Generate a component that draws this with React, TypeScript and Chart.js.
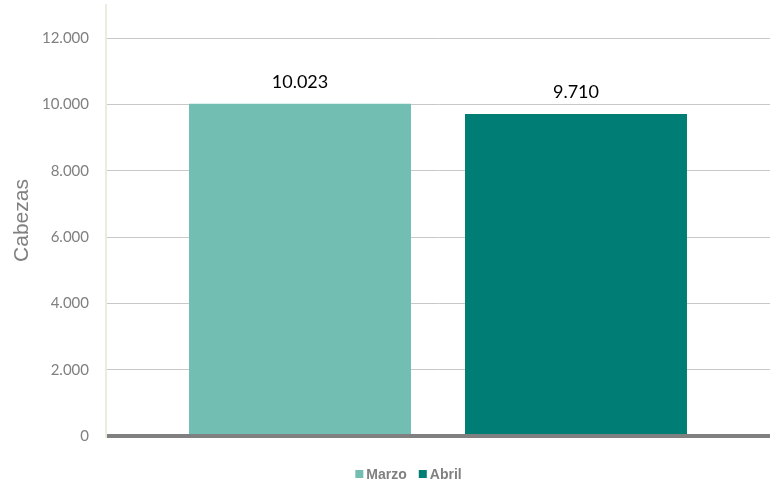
import React, { useEffect, useRef } from "react";
import { Chart, registerables } from "chart.js";

Chart.register(...registerables);

const categories = [""];
const seriesNames = ["Marzo", "Abril"];
const marzoValues = [10023];
const abrilValues = [9710];
const seriesColors = ["#73BEB3", "#007E75"];
const yTicks = [0, 2000, 4000, 6000, 8000, 10000, 12000];
const yMax = 13000;
const yTitle = "Cabezas";

const fmt = (v: number) =>
  String(Math.round(v)).replace(/\B(?=(\d{3})+(?!\d))/g, ".");

export default function App() {
  const ref = useRef<HTMLCanvasElement>(null);

  useEffect(() => {
    const valueLabels = {
      id: "valueLabels",
      afterDatasetsDraw(chart: any) {
        const ctx = chart.ctx;
        ctx.save();
        ctx.font = "18px Lato, 'Liberation Sans', sans-serif";
        ctx.fillStyle = "#000000";
        ctx.textAlign = "center";
        ctx.textBaseline = "alphabetic";
        chart.data.datasets.forEach((ds: any, di: number) => {
          const meta = chart.getDatasetMeta(di);
          meta.data.forEach((bar: any, i: number) => {
            ctx.fillText(fmt(ds.data[i]), bar.x, bar.y - 16);
          });
        });
        ctx.restore();
      },
    };

    const customLegend = {
      id: "customLegend",
      afterDraw(chart: any) {
        const ctx = chart.ctx;
        ctx.save();
        ctx.font = "bold 14px 'Liberation Sans', Arial, sans-serif";
        const box = 8;
        const gapText = 3;
        const gapItem = 12;
        const items = chart.data.datasets.map((d: any) => ({
          label: d.label,
          color: d.backgroundColor,
          w: ctx.measureText(d.label).width,
        }));
        const total =
          items.reduce((s: number, it: any) => s + box + gapText + it.w, 0) +
          gapItem * (items.length - 1);
        let x = 408.5 - total / 2;
        const y = 474;
        ctx.textBaseline = "middle";
        ctx.textAlign = "left";
        items.forEach((it: any) => {
          ctx.fillStyle = it.color;
          ctx.fillRect(x, y - 4, box, box);
          x += box + gapText;
          ctx.fillStyle = "#808080";
          ctx.fillText(it.label, x, y + 1);
          x += it.w + gapItem;
        });
        ctx.restore();
      },
    };

    const chart = new Chart(ref.current as HTMLCanvasElement, {
      type: "bar",
      data: {
        labels: categories,
        datasets: [
          {
            label: seriesNames[0],
            data: marzoValues,
            backgroundColor: seriesColors[0],
            borderWidth: 0,
            categoryPercentage: 0.8313,
            barPercentage: 0.8043,
          },
          {
            label: seriesNames[1],
            data: abrilValues,
            backgroundColor: seriesColors[1],
            borderWidth: 0,
            categoryPercentage: 0.8313,
            barPercentage: 0.8043,
          },
        ],
      },
      options: {
        responsive: false,
        animation: false,
        layout: { padding: { top: 5, right: 9, bottom: 50, left: 0 } },
        plugins: {
          legend: { display: false },
          tooltip: { enabled: false },
        },
        scales: {
          x: { display: false },
          y: {
            min: 0,
            max: yMax,
            afterBuildTicks: (s: any) => {
              s.ticks = yTicks.map((v) => ({ value: v }));
            },
            afterFit: (s: any) => {
              s.width = 106;
              s.paddingTop = 0;
              s.paddingBottom = 0;
            },
            border: { color: "#EDEAE0", width: 2 },
            grid: {
              drawTicks: false,
              color: (c: any) => (c.tick && c.tick.value === 0 ? "#808080" : "#C8C8C8"),
              lineWidth: (c: any) => (c.tick && c.tick.value === 0 ? 4 : 1),
            },
            ticks: {
              autoSkip: false,
              padding: 17,
              color: "#808080",
              font: { family: "Lato, 'Liberation Sans', sans-serif", size: 15 },
              callback: (v: any) => fmt(Number(v)),
            },
            title: {
              display: true,
              text: yTitle,
              color: "#808080",
              font: { family: "'Liberation Sans', Arial, sans-serif", size: 21 },
              padding: { top: 10, bottom: 0 },
            },
          },
        },
      },
      plugins: [valueLabels, customLegend],
    });

    return () => chart.destroy();
  }, []);

  return (
    <div style={{ position: "absolute", left: 0, top: 0, width: 779, height: 486, background: "#ffffff" }}>
      <canvas ref={ref} width={779} height={486} style={{ display: "block" }} />
    </div>
  );
}
